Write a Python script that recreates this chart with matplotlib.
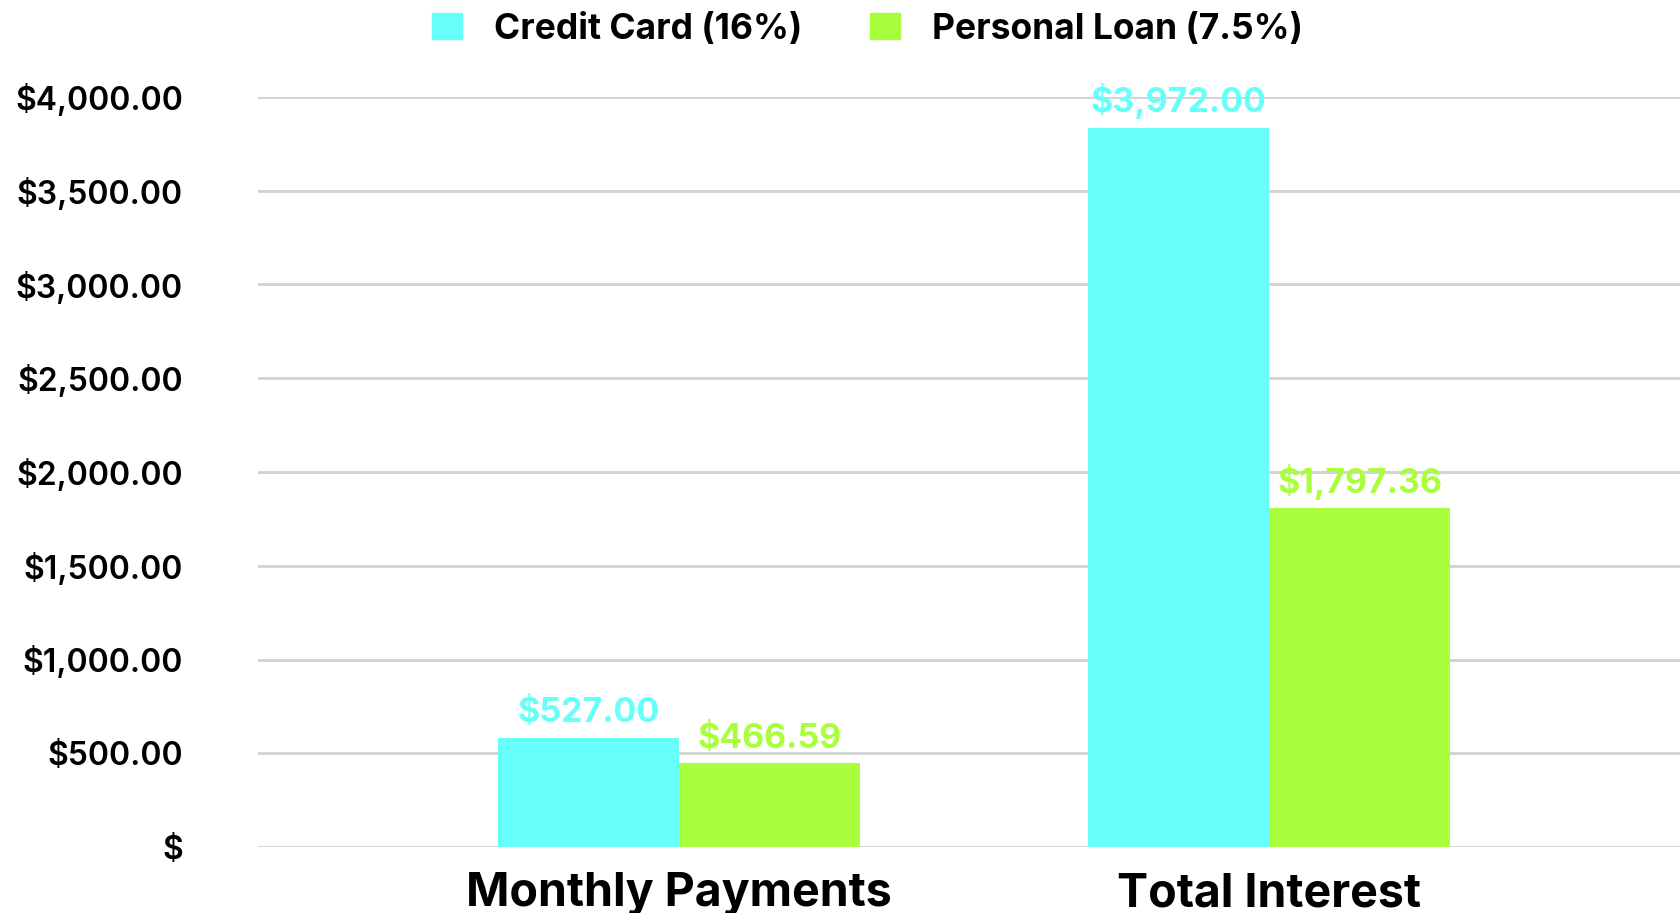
import matplotlib
matplotlib.use("Agg")
import matplotlib.pyplot as plt
from matplotlib.patches import Patch
import numpy as np

categories = ["Monthly Payments", "Total Interest"]
series_names = ["Credit Card (16%)", "Personal Loan (7.5%)"]
# bar heights as drawn in the reference
credit_card = [584, 3836]
personal_loan = [447, 1808]
# value labels printed above the bars
credit_card_labels = ["$527.00", "$3,972.00"]
personal_loan_labels = ["$466.59", "$1,797.36"]
y_ticks = [0, 500, 1000, 1500, 2000, 2500, 3000, 3500, 4000]
y_tick_labels = ["$", "$500.00", "$1,000.00", "$1,500.00", "$2,000.00",
                 "$2,500.00", "$3,000.00", "$3,500.00", "$4,000.00"]

CYAN = "#66FFF9"
GREEN = "#A9FF3B"
FONT = ["Inter", "DejaVu Sans"]
plt.rcParams["font.family"] = FONT

W, H = 1681, 913
fig = plt.figure(figsize=(W / 100, H / 100), dpi=100)
ax = fig.add_axes([258 / W, 1 - 847 / H, 1 - 258 / W, 750 / H])

x = np.arange(len(categories))
bw = 0.307
b1 = ax.bar(x - bw / 2, credit_card, bw, color=CYAN, label=series_names[0], zorder=3)
b2 = ax.bar(x + bw / 2, personal_loan, bw, color=GREEN, label=series_names[1], zorder=3)

ax.bar_label(b1, labels=credit_card_labels, padding=6, color=CYAN,
             fontsize=24.5, fontweight="bold", clip_on=False)
ax.bar_label(b2, labels=personal_loan_labels, padding=6, color=GREEN,
             fontsize=24.5, fontweight="bold", clip_on=False)

ax.set_xlim(-0.7136, 1.698)
ax.set_ylim(0, 4000)
ax.set_yticks(y_ticks)
ax.set_yticklabels(y_tick_labels, fontsize=23, fontweight="semibold")
ax.set_xticks(x)
ax.set_xticklabels(categories, fontsize=33.5, fontweight="bold")
ax.tick_params(axis="y", length=0, pad=54)
ax.tick_params(axis="x", length=0, pad=18)
ax.yaxis.grid(True, color="#D2D2D2", linewidth=2, zorder=0)
ax.set_axisbelow(True)
for s in ax.spines.values():
    s.set_visible(False)

handles = [Patch(color=CYAN), Patch(color=GREEN)]
fig.legend(handles, series_names, loc="center", bbox_to_anchor=(0.516, 0.968),
           ncol=2, frameon=False, prop={"size": 25.5, "weight": "bold"},
           handlelength=0.85, handleheight=0.75, handletextpad=0.9,
           columnspacing=1.9)

fig.savefig("out.png", dpi=100, facecolor="white")
